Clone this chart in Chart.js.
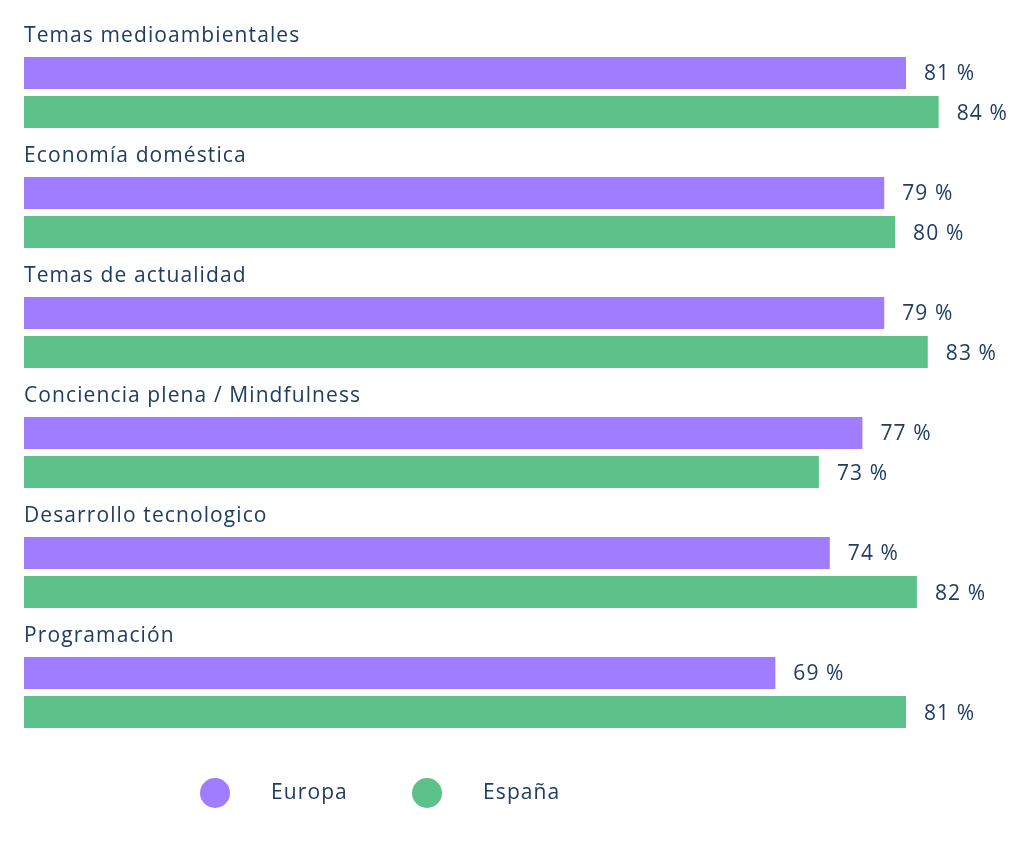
<!DOCTYPE html>
<html>
<head>
<meta charset="utf-8">
<script src="https://cdn.jsdelivr.net/npm/chart.js@4"></script>
<style>
  html, body { margin: 0; padding: 0; background: #fff; }
  #wrap { width: 1024px; height: 845px; }
</style>
</head>
<body>
<div id="wrap"><canvas id="temasChart"></canvas></div>
<script>
// Data
const categories = ['Temas medioambientales', 'Economía doméstica', 'Temas de actualidad',
    'Conciencia plena / Mindfulness', 'Desarrollo tecnologico', 'Programación'];
const europa = [81, 79, 79, 77, 74, 69];
const espana = [84, 80, 83, 73, 82, 81];
const seriesNames = ['Europa', 'España'];

const textColor = '#1f3c62';
const fontFamily = '"Open Sans", sans-serif';
const textFont = '21px ' + fontFamily;
const spacing = '1.1px';

// category titles above each pair of bars + value labels at bar ends
const labelsPlugin = {
    id: 'labelsPlugin',
    afterDatasetsDraw(chart) {
        const ctx = chart.ctx;
        const yScale = chart.scales.y;
        const left = chart.chartArea.left;
        ctx.save();
        ctx.fillStyle = textColor;
        ctx.letterSpacing = spacing;
        ctx.textBaseline = 'alphabetic';
        ctx.textAlign = 'left';
        ctx.font = textFont;
        categories.forEach((c, i) => {
            const yc = yScale.getPixelForValue(i);
            ctx.fillText(c, left, yc - 51);
        });
        ctx.textBaseline = 'middle';
        chart.data.datasets.forEach((ds, di) => {
            chart.getDatasetMeta(di).data.forEach((bar, i) => {
                ctx.fillText(ds.data[i] + ' %', bar.x + 18, bar.y + 1 + di);
            });
        });
        ctx.restore();
    }
};

// legend under the chart
const legendPlugin = {
    id: 'legendPlugin',
    afterDraw(chart) {
        const ctx = chart.ctx;
        const xs = [215, 427];
        const y = 793;
        ctx.save();
        ctx.font = textFont;
        ctx.letterSpacing = spacing;
        ctx.textBaseline = 'middle';
        chart.data.datasets.forEach((ds, i) => {
            ctx.fillStyle = ds.backgroundColor;
            ctx.beginPath();
            ctx.arc(xs[i], y, 15, 0, Math.PI * 2);
            ctx.fill();
            ctx.fillStyle = textColor;
            ctx.fillText(ds.label, xs[i] + 56, y);
        });
        ctx.restore();
    }
};

const ctx = document.getElementById('temasChart').getContext('2d');
const temasChart = new Chart(ctx, {
    type: 'bar',
    data: {
        labels: categories,
        datasets: [{
            label: seriesNames[0],
            data: europa,
            backgroundColor: '#a07dfe'
        }, {
            label: seriesNames[1],
            data: espana,
            backgroundColor: '#5dc18a'
        }]
    },
    options: {
        indexAxis: 'y',
        responsive: true,
        maintainAspectRatio: false,
        animation: false,
        categoryPercentage: 0.65,
        barPercentage: 0.82,
        layout: {
            padding: { left: 24, right: 20, top: 32.5, bottom: 92.5 }
        },
        scales: {
            x: { display: false, min: 0, max: 90 },
            y: { display: false }
        },
        plugins: {
            legend: { display: false },
            tooltip: { enabled: false }
        }
    },
    plugins: [labelsPlugin, legendPlugin]
});
</script>
</body>
</html>
